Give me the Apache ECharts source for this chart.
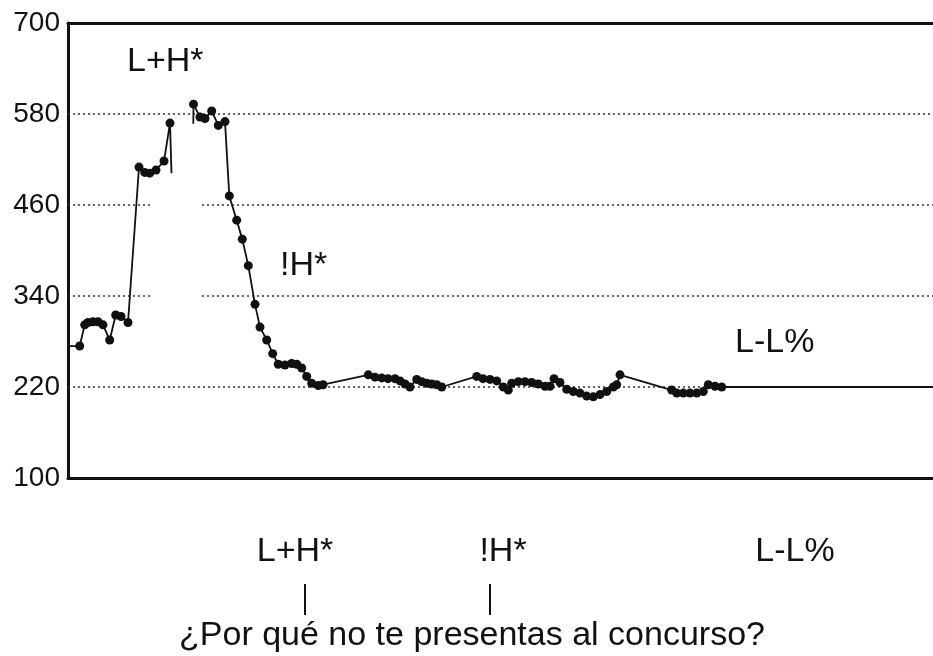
<!DOCTYPE html>
<html>
<head>
  <meta charset="UTF-8" />
  <title>F0 contour</title>
  <script src="https://cdn.jsdelivr.net/npm/echarts@6/dist/echarts.min.js"></script>
  <style>
    html, body { margin: 0; padding: 0; background: #fff; }
    #chart { width: 933px; height: 656px; }
  </style>
</head>
<body>
  <div id="chart"></div>
  <script>
    // pitch track, x = time step, y = Hz
    const seg1 = [
      [0, 274], [11.7, 274], [16.7, 302], [20, 305], [25, 306], [30, 306], [35, 302],
      [41.7, 282], [47.7, 315], [53, 313], [60, 305], [71, 510], [76.7, 503],
      [81.7, 502], [88, 506], [96, 518], [102, 568], [103.5, 502]
    ];
    const seg2 = [
      [125.3, 567], [125.5, 593], [132, 576], [137, 574], [143.7, 584], [150.3, 565],
      [157, 570], [161.3, 472], [168.7, 440], [174.3, 415], [180.3, 380], [187, 329],
      [192, 299], [198.7, 282], [204.7, 264], [210.3, 250], [217, 249], [223.7, 251],
      [228.7, 250], [233.7, 245], [238.7, 234], [243.7, 225], [250.3, 222], [255, 223],
      [300.3, 236], [307, 233], [313.7, 232], [320, 231], [327, 231], [332, 228],
      [337, 224], [342, 220], [348.7, 230], [353.7, 227], [358.7, 225], [363.7, 224],
      [368.7, 223], [373.7, 220],
      [408.7, 234], [415, 231], [422, 230], [428.7, 228], [435.3, 220], [440.3, 216],
      [443.7, 225], [450.3, 227], [457, 227], [463.7, 226], [470.3, 224], [477, 221],
      [482, 221], [486, 231], [492, 226], [498.7, 217], [505.3, 214], [512, 212],
      [518.7, 208], [525.3, 207], [532, 210], [538.7, 214], [545.3, 220], [548.7, 223],
      [552, 236],
      [603.7, 216], [608.7, 212], [615.3, 212], [622, 212], [628.7, 212], [635.3, 214],
      [640.3, 223], [647, 221], [653.7, 220], [865, 220]
    ];
    // points drawn without a dot (line ends / stubs)
    const seg1Plain = [0, seg1.length - 1];
    const seg2Plain = [0, seg2.length - 1];

    const yTicks = [100, 220, 340, 460, 580, 700];
    const gridLevels = [220, 340, 460, 580];
    const gridGapLevels = [340, 460];
    const gridGap = [83, 134];
    const xMax = 865;

    const tonesTop = [
      { text: 'L+H*', x: 127, y: 62 },
      { text: '!H*', x: 280, y: 266 },
      { text: 'L-L%', x: 735, y: 343 }
    ];
    const tonesBottom = [
      { text: 'L+H*', x: 295, y: 552 },
      { text: '!H*', x: 503, y: 552 },
      { text: 'L-L%', x: 795, y: 552 }
    ];
    const tierTicks = [305, 490];
    const sentence = '¿Por qué no te presentas al concurso?';

    const font = '"Liberation Sans", Arial, Helvetica, sans-serif';

    function toData(seg, plain) {
      return seg.map((p, i) => plain.indexOf(i) >= 0 ? { value: p, symbol: 'none' } : p);
    }

    const gridLines = [];
    gridLevels.forEach(v => {
      if (gridGapLevels.indexOf(v) >= 0) {
        gridLines.push([{ coord: [0, v] }, { coord: [gridGap[0], v] }]);
        gridLines.push([{ coord: [gridGap[1], v] }, { coord: [xMax, v] }]);
      } else {
        gridLines.push([{ coord: [0, v] }, { coord: [xMax, v] }]);
      }
    });

    const lineSeries = (data) => ({
      type: 'line',
      data: data,
      symbol: 'circle',
      symbolSize: 9,
      showSymbol: true,
      animation: false,
      itemStyle: { color: '#111' },
      lineStyle: { color: '#111', width: 1.8 },
      z: 3
    });

    const chart = echarts.init(document.getElementById('chart'));
    const graphics = [];
    tonesTop.forEach(t => graphics.push({
      type: 'text', x: t.x, y: t.y,
      style: { text: t.text, font: '34px ' + font, fill: '#111', align: 'left', verticalAlign: 'middle' }
    }));
    tonesBottom.forEach(t => graphics.push({
      type: 'text', x: t.x, y: t.y,
      style: { text: t.text, font: '34px ' + font, fill: '#111', align: 'center', verticalAlign: 'middle' }
    }));
    tierTicks.forEach(x => graphics.push({
      type: 'line', shape: { x1: x, y1: 584, x2: x, y2: 615 },
      style: { stroke: '#111', lineWidth: 2 }
    }));
    graphics.push({
      type: 'text', x: 472, y: 636,
      style: { text: sentence, font: '34px ' + font, fill: '#111', align: 'center', verticalAlign: 'middle' }
    });

    chart.setOption({
      animation: false,
      grid: { left: 68, right: 0, top: 23, bottom: 178 },
      xAxis: [
        {
          type: 'value', min: 0, max: xMax,
          axisLine: { show: true, lineStyle: { color: '#111', width: 3 } },
          axisTick: { show: false }, axisLabel: { show: false }, splitLine: { show: false }
        },
        {
          type: 'value', position: 'top', min: 0, max: xMax,
          axisLine: { show: true, lineStyle: { color: '#111', width: 3 } },
          axisTick: { show: false }, axisLabel: { show: false }, splitLine: { show: false }
        }
      ],
      yAxis: {
        type: 'value', min: yTicks[0], max: yTicks[yTicks.length - 1], interval: 120,
        axisLine: { show: true, onZero: false, lineStyle: { color: '#111', width: 3 } },
        axisTick: { show: false },
        splitLine: { show: false },
        axisLabel: { color: '#111', fontSize: 28, fontFamily: font, margin: 8 }
      },
      series: [
        lineSeries(toData(seg1, seg1Plain)),
        Object.assign(lineSeries(toData(seg2, seg2Plain)), {
          markLine: {
            silent: true,
            symbol: ['none', 'none'],
            label: { show: false },
            lineStyle: { color: '#333', width: 1.5, type: [2, 3] },
            data: gridLines,
            z: 1
          }
        })
      ],
      graphic: graphics
    });
  </script>
</body>
</html>
